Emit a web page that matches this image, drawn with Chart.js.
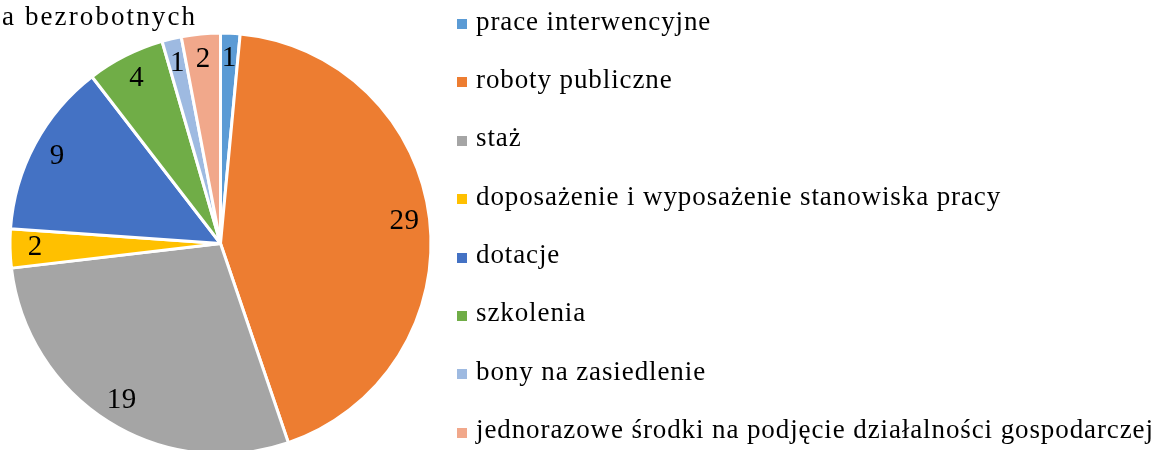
<!DOCTYPE html>
<html lang="pl">
<head>
<meta charset="utf-8">
<title>Formy aktywizacji bezrobotnych</title>
<script src="https://cdn.jsdelivr.net/npm/chart.js@4.4.1/dist/chart.umd.min.js"></script>
<style>
    html, body { margin: 0; padding: 0; background: #fff; overflow: hidden; }
    #wrap { position: relative; width: 1162px; height: 450px; }
    #legend {
        position: absolute; left: 457px; top: -5.2px;
        margin: 0; padding: 0; list-style: none;
        font-family: 'Liberation Serif', 'Times New Roman', serif;
        font-size: 27px; letter-spacing: 0.9px; color: #000;
    }
    #legend li { display: flex; align-items: center; height: 58.4px; white-space: nowrap; }
    #legend .box { width: 10px; height: 10px; margin-right: 9px; flex: none; }
    #legend .txt { line-height: 27px; position: relative; top: -3px; }
</style>
</head>
<body>
<div id="wrap">
    <canvas id="chart"></canvas>
    <ul id="legend"></ul>
</div>
<script>
const titleText = 'a bezrobotnych';
const labels = [
    'prace interwencyjne',
    'roboty publiczne',
    'staż',
    'doposażenie i wyposażenie stanowiska pracy',
    'dotacje',
    'szkolenia',
    'bony na zasiedlenie',
    'jednorazowe środki na podjęcie działalności gospodarczej'
];
const values = [1, 29, 19, 2, 9, 4, 1, 2];
const colors = ['#5B9BD5', '#ED7D31', '#A5A5A5', '#FFC000', '#4472C4', '#70AD47', '#9EBAE1', '#F1A88B'];

const fontFamily = "'Liberation Serif', 'Times New Roman', serif";

// the original text is spaced a bit wider than plain Times
const spacing = {
    id: 'spacing',
    beforeDraw(chart) { chart.ctx.letterSpacing = '2.1px'; }
};

// value inside each slice, near the rim
const sliceLabels = {
    id: 'sliceLabels',
    afterDatasetsDraw(chart) {
        const ctx = chart.ctx;
        const meta = chart.getDatasetMeta(0);
        ctx.save();
        ctx.font = '29px ' + fontFamily;
        ctx.letterSpacing = '0.5px';
        ctx.fillStyle = '#000';
        ctx.textAlign = 'center';
        ctx.textBaseline = 'middle';
        meta.data.forEach((arc, i) => {
            const p = arc.getProps(['x', 'y', 'startAngle', 'endAngle', 'outerRadius'], true);
            const mid = (p.startAngle + p.endAngle) / 2;
            const r = p.outerRadius * 0.88;
            ctx.fillText(String(values[i]), p.x + Math.cos(mid) * r, p.y + Math.sin(mid) * r);
        });
        ctx.restore();
    }
};

// legend as html list, built from the chart's own legend items
const htmlLegend = {
    id: 'htmlLegend',
    afterUpdate(chart) {
        const ul = document.getElementById('legend');
        ul.innerHTML = '';
        const items = chart.options.plugins.legend.labels.generateLabels(chart);
        items.forEach(item => {
            const li = document.createElement('li');
            const box = document.createElement('span');
            box.className = 'box';
            box.style.background = item.fillStyle;
            const txt = document.createElement('span');
            txt.className = 'txt';
            txt.textContent = item.text;
            li.appendChild(box);
            li.appendChild(txt);
            ul.appendChild(li);
        });
    }
};

new Chart(document.getElementById('chart'), {
    type: 'pie',
    data: {
        labels: labels,
        datasets: [{
            data: values,
            backgroundColor: colors,
            borderColor: '#fff',
            borderWidth: 3,
            radius: 210.5,
            clip: false
        }]
    },
    options: {
        responsive: true,
        maintainAspectRatio: false,
        animation: false,
        layout: {
            padding: { left: 2, right: 723, top: 0, bottom: 0 }
        },
        plugins: {
            tooltip: { enabled: false },
            legend: { display: false },
            title: {
                display: true,
                text: titleText,
                align: 'start',
                color: '#000',
                font: { family: fontFamily, size: 27, weight: 'normal' },
                padding: { top: 1.4, bottom: 3.2 }
            }
        }
    },
    plugins: [spacing, sliceLabels, htmlLegend]
});
</script>
</body>
</html>
